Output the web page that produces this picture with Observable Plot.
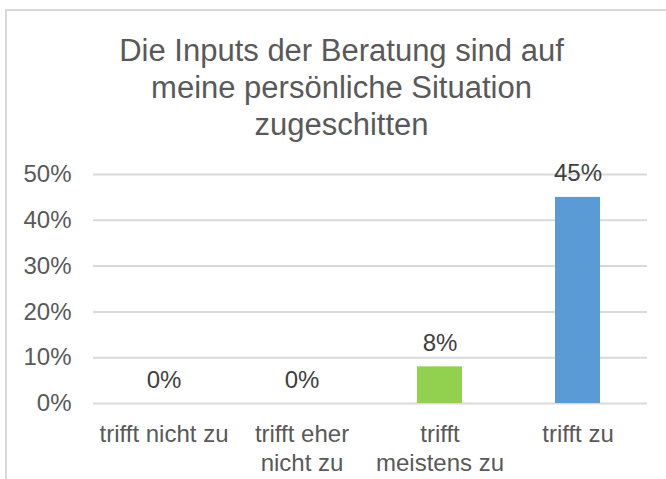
<!DOCTYPE html>
<html>
<head>
<meta charset="utf-8">
<script src="https://cdn.jsdelivr.net/npm/d3@7"></script>
<script src="https://cdn.jsdelivr.net/npm/@observablehq/plot@0.6"></script>
<style>
  html, body { margin: 0; padding: 0; background: #fff; }
  #wrap { position: relative; width: 666px; height: 479px; overflow: hidden; font-family: "Liberation Sans", Arial, sans-serif; }
  #chart { position: absolute; left: 0; top: 0; }
  #frame { position: absolute; left: 5px; top: 9px; width: 700px; height: 520px;
           border-top: 2px solid #d9d9d9; border-left: 2px solid #d9d9d9; pointer-events: none; }
  #title { position: absolute; left: 0; top: 32px; width: 683px; text-align: center;
           font-size: 31px; line-height: 37px; color: #595959; }
</style>
</head>
<body>
<div id="wrap">
  <div id="chart"></div>
  <div id="frame"></div>
  <div id="title">Die Inputs der Beratung sind auf<br>meine persönliche Situation<br>zugeschitten</div>
</div>
<script>
const categories = ["trifft nicht zu", "trifft eher\nnicht zu", "trifft\nmeistens zu", "trifft zu"];
const values = [0, 0, 8, 45];
const yTicks = [0, 10, 20, 30, 40, 50];
const barColors = ["#5B9BD5", "#5B9BD5", "#92D050", "#5B9BD5"];

const data = categories.map((c, i) => ({category: c, value: values[i]}));

const chart = Plot.plot({
  width: 666,
  height: 479,
  marginTop: 174,
  marginBottom: 76,
  marginLeft: 93,
  marginRight: 19,
  style: {background: "transparent", fontFamily: "'Liberation Sans', Arial, sans-serif", fontSize: "24px", color: "#595959"},
  x: {domain: categories, paddingInner: 0.675, paddingOuter: 0.3375, label: null},
  y: {domain: [0, 50], label: null},
  color: {domain: categories, range: barColors},
  marks: [
    Plot.gridY(yTicks, {stroke: "#d9d9d9", strokeOpacity: 1, strokeWidth: 2}),
    Plot.barY(data, {x: "category", y: "value", fill: "category"}),
    Plot.axisY(yTicks, {tickSize: 0, tickPadding: 22, tickFormat: d => d + "%", fill: "#595959", fontSize: 24, label: null}),
    Plot.axisX({tickSize: 0, tickPadding: 19, fill: "#595959", fontSize: 24, lineHeight: 1.17, label: null}),
    Plot.text(data, {x: "category", y: "value", text: d => d.value + "%", lineAnchor: "bottom", dy: -16, fill: "#404040", fontSize: 24})
  ]
});
document.getElementById("chart").appendChild(chart);
</script>
</body>
</html>
